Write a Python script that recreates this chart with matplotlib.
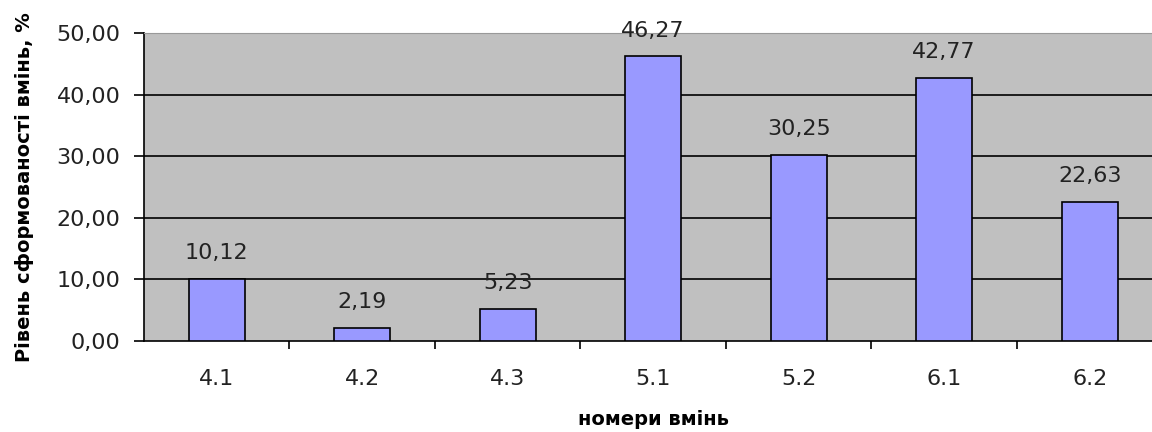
import matplotlib
matplotlib.use('Agg')
from matplotlib import pyplot as plt
import numpy as np

categories = ['4.1', '4.2', '4.3', '5.1', '5.2', '6.1', '6.2']
values = [10.12, 2.19, 5.23, 46.27, 30.25, 42.77, 22.63]
labels = ['10,12', '2,19', '5,23', '46,27', '30,25', '42,77', '22,63']
yticks = [0, 10, 20, 30, 40, 50]

plt.rcParams['font.family'] = ['DejaVu Sans']

fig = plt.figure(figsize=(11.52, 4.32), dpi=100)
ax = fig.add_axes([0.125, 0.2106, 0.884, 0.713])
ax.set_facecolor('#C0C0C0')

x = np.arange(len(categories))
ax.bar(x, values, width=0.385, color='#9999FF', edgecolor='black', linewidth=1.2, zorder=3)
for xi, v, lab in zip(x, values, labels):
    ax.annotate(lab, (xi, v), xytext=(0, 14), textcoords='offset points',
                ha='center', va='baseline', fontsize=16, color='#222222', zorder=4)

ax.set_xlim(-0.5, len(categories) - 0.5)
ax.set_ylim(0, 50)
ax.set_yticks(yticks)
ax.set_yticklabels(['%d,00' % t for t in yticks], fontsize=16, color='#222222')
ax.set_xticks(x)
ax.set_xticklabels(categories, fontsize=16, color='#222222')
ax.set_xticks(x[:-1] + 0.5, minor=True)
ax.tick_params(axis='x', which='major', length=0, pad=20)
ax.tick_params(axis='x', which='minor', length=6, width=1.2, direction='out')
ax.tick_params(axis='y', length=7, width=1.2, direction='out', pad=10)

for t in yticks[1:-1]:
    ax.axhline(t, color='black', linewidth=1.2, zorder=1)

ax.spines['top'].set_color('#999999')
ax.spines['right'].set_visible(False)
ax.spines['left'].set_linewidth(1.2)
ax.spines['bottom'].set_linewidth(1.2)

ax.set_ylabel('Рівень сформованості вмінь, %', fontsize=14, fontweight='bold', labelpad=16)
ax.set_xlabel('номери вмінь', fontsize=14, fontweight='bold', labelpad=15)

fig.savefig('out.png', dpi=100)
